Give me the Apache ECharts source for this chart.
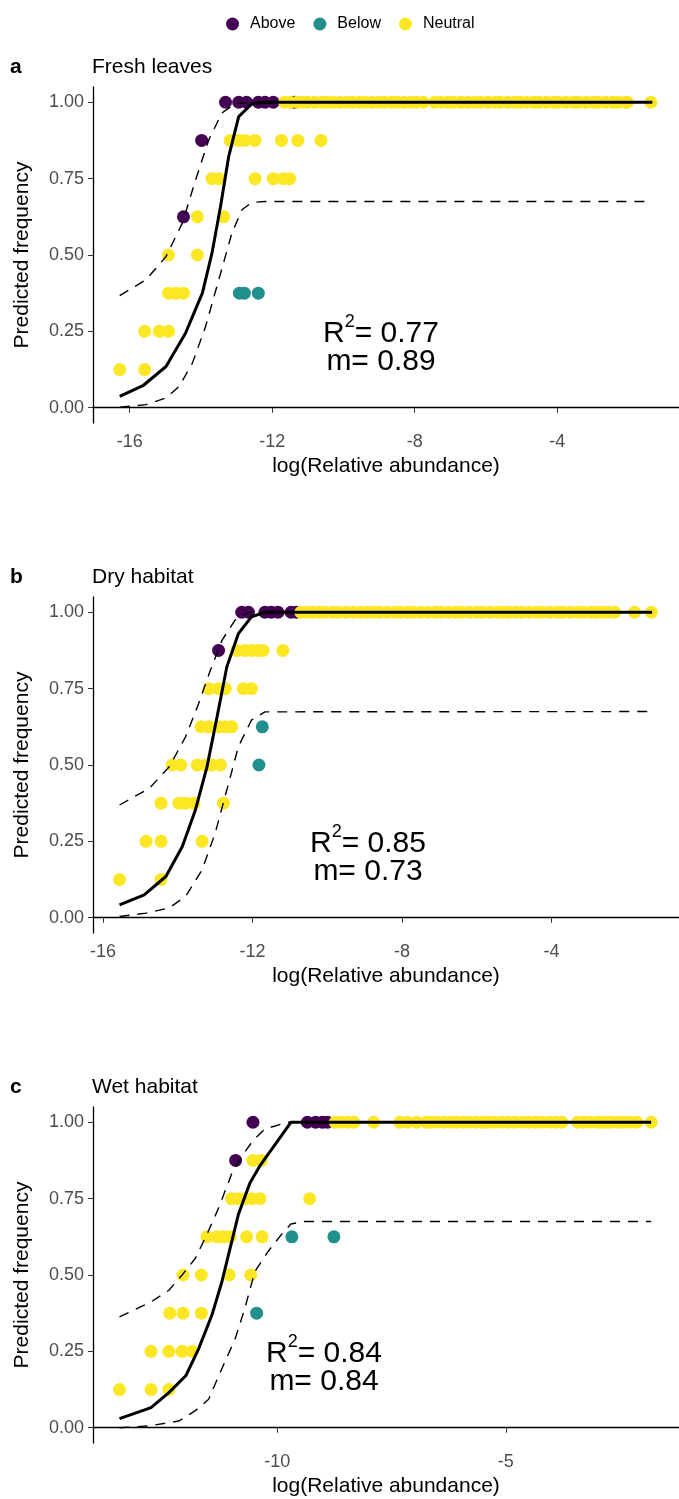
<!DOCTYPE html>
<html>
<head>
<meta charset="utf-8">
<script src="https://cdn.jsdelivr.net/npm/echarts@6/dist/echarts.min.js"></script>
<style>
  html, body { margin: 0; padding: 0; background: #fff; }
  #chart { width: 679px; height: 1499px; }
</style>
</head>
<body>
<div id="chart"></div>
<script>
// ---- data ----
var groups = ['Above', 'Below', 'Neutral'];
var groupColors = ['#440154', '#21908C', '#FDE725'];
var yTicks = [0, 0.25, 0.5, 0.75, 1];

// a: Fresh leaves
var aTicks = [-16, -12, -8, -4];
var aAbove = [[-13.31, 1], [-12.94, 1], [-12.72, 1], [-12.39, 1], [-12.2, 1], [-11.97, 1], [-11.37, 1],
  [-13.98, 0.875], [-14.49, 0.625]];
var aBelow = [[-12.92, 0.375], [-12.78, 0.375], [-12.39, 0.375]];
var aNeutralTop = [-11.65, -11.5, -11.3, -11.15, -11.0, -10.8, -10.6, -10.45, -10.3, -10.1, -9.9, -9.75,
  -9.55, -9.4, -9.2, -9.0, -8.85, -8.65, -8.5, -8.3, -8.1, -7.95, -7.76, -7.44, -7.25, -7.05, -6.9, -6.7,
  -6.5, -6.3, -6.15, -5.95, -5.75, -5.6, -5.4, -5.2, -5.05, -4.85, -4.65, -4.5, -4.3, -4.1, -3.95, -3.75,
  -3.55, -3.4, -3.2, -3.0, -2.85, -2.65, -2.45, -2.3, -2.1, -2.03, -1.37];
var aNeutral = [[-13.18, 0.875], [-12.94, 0.875], [-12.76, 0.875], [-12.48, 0.875], [-11.74, 0.875],
  [-11.28, 0.875], [-10.63, 0.875],
  [-13.69, 0.75], [-13.5, 0.75], [-12.48, 0.75], [-11.97, 0.75], [-11.69, 0.75], [-11.51, 0.75],
  [-14.1, 0.625], [-13.36, 0.625],
  [-14.91, 0.5], [-14.1, 0.5],
  [-14.91, 0.375], [-14.7, 0.375], [-14.49, 0.375],
  [-15.58, 0.25], [-15.17, 0.25], [-14.91, 0.25],
  [-16.28, 0.125], [-15.58, 0.125]];
var aFit = [[-16.28, 0.037], [-15.63, 0.072], [-14.98, 0.135], [-14.43, 0.245], [-13.96, 0.375],
  [-13.69, 0.506], [-13.45, 0.659], [-13.22, 0.823], [-12.94, 0.953], [-12.57, 0.995], [-12.2, 1], [-1.33, 1]];
var aUpper = [[-16.28, 0.367], [-15.54, 0.419], [-14.98, 0.495], [-14.52, 0.605], [-14.15, 0.746],
  [-13.78, 0.877], [-13.41, 0.965], [-13.04, 0.995], [-12.6, 1], [-1.33, 1]];
var aLower = [[-16.28, 0.002], [-15.54, 0.01], [-14.98, 0.032], [-14.61, 0.07], [-14.24, 0.146],
  [-13.87, 0.266], [-13.5, 0.419], [-13.13, 0.572], [-12.85, 0.648], [-12.57, 0.672], [-12.2, 0.675], [-1.33, 0.675]];

// b: Dry habitat
var bTicks = [-16, -12, -8, -4];
var bAbove = [[-12.29, 1], [-12.11, 1], [-11.67, 1], [-11.5, 1], [-11.32, 1], [-10.97, 1], [-10.83, 1],
  [-12.91, 0.875]];
var bBelow = [[-11.74, 0.625], [-11.83, 0.5]];
var bNeutralTop = [-10.71, -10.55, -10.38, -10.2, -10.05, -9.85, -9.7, -9.5, -9.3, -9.1, -8.93, -8.75,
  -8.6, -8.4, -8.2, -8.05, -7.85, -7.7, -7.5, -7.3, -7.1, -6.95, -6.75, -6.55, -6.4, -6.2, -6.0, -5.85,
  -5.65, -5.45, -5.3, -5.15, -4.96, -4.8, -4.6, -4.4, -4.25, -4.05, -3.85, -3.7, -3.5, -3.3, -3.15,
  -2.95, -2.8, -2.65, -2.5, -2.31, -1.78, -1.33];
var bNeutral = [[-12.42, 0.875], [-12.2, 0.875], [-12.03, 0.875], [-11.85, 0.875], [-11.72, 0.875], [-11.19, 0.875],
  [-13.17, 0.75], [-12.91, 0.75], [-12.73, 0.75], [-12.25, 0.75], [-12.03, 0.75],
  [-13.38, 0.625], [-13.17, 0.625], [-12.91, 0.625], [-12.73, 0.625], [-12.56, 0.625],
  [-14.15, 0.5], [-13.92, 0.5], [-13.48, 0.5], [-13.26, 0.5], [-13.09, 0.5], [-12.86, 0.5],
  [-14.45, 0.375], [-13.97, 0.375], [-13.79, 0.375], [-13.57, 0.375], [-12.78, 0.375],
  [-14.85, 0.25], [-14.45, 0.25], [-13.35, 0.25],
  [-15.56, 0.125], [-14.45, 0.125]];
var bFit = [[-15.56, 0.042], [-14.9, 0.075], [-14.32, 0.135], [-13.88, 0.233], [-13.53, 0.353],
  [-13.22, 0.494], [-12.95, 0.658], [-12.69, 0.821], [-12.38, 0.93], [-12.03, 0.985], [-11.67, 1], [-1.31, 1]];
var bUpper = [[-15.56, 0.369], [-14.76, 0.424], [-14.23, 0.494], [-13.79, 0.593], [-13.44, 0.702],
  [-13.13, 0.81], [-12.82, 0.908], [-12.47, 0.974], [-12.11, 1], [-1.31, 1]];
var bLower = [[-15.56, 0.004], [-14.85, 0.015], [-14.23, 0.032], [-13.79, 0.07], [-13.35, 0.157],
  [-13.0, 0.277], [-12.69, 0.418], [-12.38, 0.56], [-12.03, 0.647], [-11.67, 0.674], [-1.31, 0.675]];

// c: Wet habitat
var cTicks = [-10, -5];
var cAbove = [[-10.53, 1], [-9.34, 1], [-9.16, 1], [-9.01, 1], [-8.9, 1], [-10.91, 0.875]];
var cBelow = [[-9.68, 0.625], [-8.76, 0.625], [-10.45, 0.375]];
var cNeutralTop = [-8.73, -8.6, -8.45, -8.32, -7.89, -7.32, -7.15, -6.95, -6.74, -6.63, -6.5, -6.35,
  -6.2, -6.08, -5.94, -5.8, -5.65, -5.5, -5.4, -5.25, -5.1, -4.95, -4.8, -4.64, -4.5, -4.35, -4.2,
  -4.05, -3.9, -3.77, -3.43, -3.3, -3.15, -3.0, -2.9, -2.78, -2.69, -2.55, -2.42, -2.28, -2.13, -1.82];
var cNeutral = [[-10.53, 0.875], [-10.35, 0.875],
  [-11.0, 0.75], [-10.85, 0.75], [-10.71, 0.75], [-10.56, 0.75], [-10.38, 0.75], [-9.29, 0.75],
  [-11.54, 0.625], [-11.32, 0.625], [-11.18, 0.625], [-11.03, 0.625], [-10.67, 0.625], [-10.33, 0.625],
  [-12.06, 0.5], [-11.66, 0.5], [-11.05, 0.5], [-10.58, 0.5],
  [-12.35, 0.375], [-12.06, 0.375], [-11.66, 0.375],
  [-12.76, 0.25], [-12.37, 0.25], [-12.08, 0.25], [-11.86, 0.25],
  [-13.45, 0.125], [-12.76, 0.125], [-12.37, 0.125]];
var cFit = [[-13.45, 0.03], [-12.76, 0.066], [-12.37, 0.115], [-12.0, 0.17], [-11.72, 0.258], [-11.43, 0.368],
  [-11.21, 0.478], [-11.03, 0.588], [-10.85, 0.698], [-10.6, 0.8], [-10.38, 0.857], [-9.7, 1], [-1.82, 1]];
var cUpper = [[-13.45, 0.363], [-12.76, 0.412], [-12.37, 0.45], [-12.08, 0.5], [-11.79, 0.555],
  [-11.54, 0.632], [-11.28, 0.72], [-11.0, 0.83], [-10.74, 0.896], [-10.53, 0.94], [-10.27, 0.978],
  [-9.77, 1], [-1.82, 1]];
var cLower = [[-13.45, 0.0], [-12.8, 0.006], [-12.15, 0.022], [-11.79, 0.056], [-11.5, 0.093], [-11.28, 0.17],
  [-10.92, 0.291], [-10.71, 0.39], [-10.49, 0.511], [-10.2, 0.577], [-9.91, 0.632], [-9.7, 0.667],
  [-9.4, 0.675], [-1.82, 0.675]];

var panels = [
  { tag: 'a', name: 'Fresh leaves', top: 87, xMin: -17.03, xMax: -0.58, ticks: aTicks,
    above: aAbove, below: aBelow, neutral: aNeutral, neutralTop: aNeutralTop,
    fit: aFit, upper: aUpper, lower: aLower, r2: '0.77', m: '0.89', tx: 381 },
  { tag: 'b', name: 'Dry habitat', top: 597, xMin: -16.27, xMax: -0.59, ticks: bTicks,
    above: bAbove, below: bBelow, neutral: bNeutral, neutralTop: bNeutralTop,
    fit: bFit, upper: bUpper, lower: bLower, r2: '0.85', m: '0.73', tx: 368 },
  { tag: 'c', name: 'Wet habitat', top: 1107, xMin: -14.03, xMax: -1.21, ticks: cTicks,
    above: cAbove, below: cBelow, neutral: cNeutral, neutralTop: cNeutralTop,
    fit: cFit, upper: cUpper, lower: cLower, r2: '0.84', m: '0.84', tx: 324 }
];

var FONT = '"Liberation Sans", Arial, Helvetica, sans-serif';
var grids = [], xAxes = [], yAxes = [], series = [], graphics = [];

panels.forEach(function (p, i) {
  grids.push({ left: 93, width: 592, top: p.top, height: 336 });
  xAxes.push({
    type: 'value', gridIndex: i, min: p.xMin, max: p.xMax,
    name: 'log(Relative abundance)', nameLocation: 'middle', nameGap: 33,
    nameTextStyle: { fontFamily: FONT, fontSize: 21, color: '#000' },
    axisLine: { lineStyle: { color: '#000', width: 1.3 } },
    axisTick: { length: 5, customValues: p.ticks, lineStyle: { color: '#333' } },
    axisLabel: { customValues: p.ticks, fontFamily: FONT, fontSize: 18, color: '#4d4d4d', margin: 10 },
    splitLine: { show: false }
  });
  yAxes.push({
    type: 'value', gridIndex: i, min: -0.05, max: 1.05,
    name: 'Predicted frequency', nameLocation: 'middle', nameGap: 60, nameRotate: 90,
    nameTextStyle: { fontFamily: FONT, fontSize: 21, color: '#000' },
    axisLine: { show: true, lineStyle: { color: '#000', width: 1.3 } },
    axisTick: { show: true, length: 5, customValues: yTicks, lineStyle: { color: '#333' } },
    axisLabel: { customValues: yTicks, fontFamily: FONT, fontSize: 18, color: '#4d4d4d', margin: 9,
      formatter: function (v) { return v.toFixed(2); } },
    splitLine: { show: false }
  });

  var neutralAll = p.neutralTop.map(function (x) { return [x, 1]; }).concat(p.neutral);
  var pts = [p.above, p.below, neutralAll];
  pts.forEach(function (d, k) {
    series.push({
      name: groups[k], type: 'scatter', xAxisIndex: i, yAxisIndex: i, data: d,
      symbolSize: 13, itemStyle: { color: groupColors[k], opacity: 1 }, z: 2 + k * 0.1
    });
  });
  [[p.upper, 'dashed'], [p.lower, 'dashed'], [p.fit, 'solid']].forEach(function (l) {
    var solid = l[1] === 'solid';
    series.push({
      type: 'line', xAxisIndex: i, yAxisIndex: i, data: l[0], showSymbol: false, symbol: 'none',
      lineStyle: { color: '#000', width: solid ? 3 : 1.4, type: solid ? 'solid' : [10, 8] }, z: 5
    });
  });

  graphics.push({
    type: 'text', x: 10, y: p.top - 20,
    style: { text: p.tag, fontFamily: FONT, fontSize: 21, fontWeight: 'bold', fill: '#000',
      textVerticalAlign: 'middle' }
  });
  graphics.push({
    type: 'text', x: 92, y: p.top - 20,
    style: { text: p.name, fontFamily: FONT, fontSize: 21, fill: '#000', textVerticalAlign: 'middle' }
  });
  // R^2 / m annotation, superscript lifted by a taller first line
  graphics.push({
    type: 'text', x: p.tx, y: p.top + 257,
    style: {
      text: '{r|R}{s|2}{r|= ' + p.r2 + '}\n{r2|m= ' + p.m + '}',
      textAlign: 'center', textVerticalAlign: 'middle',
      rich: {
        r: { fontFamily: FONT, fontSize: 30, lineHeight: 26, color: '#000', verticalAlign: 'bottom' },
        s: { fontFamily: FONT, fontSize: 18, lineHeight: 36, color: '#000', verticalAlign: 'top',
          padding: [0, 0, 17, 0] },
        r2: { fontFamily: FONT, fontSize: 30, lineHeight: 26, color: '#000' }
      }
    }
  });
});

var chart = echarts.init(document.getElementById('chart'));
chart.setOption({
  animation: false,
  backgroundColor: '#fff',
  legend: {
    data: groups, top: 11, left: 221, icon: 'circle', itemWidth: 13, itemHeight: 13, itemGap: 18,
    textStyle: { fontFamily: FONT, fontSize: 16, color: '#000', padding: [0, 0, 0, 6] }
  },
  grid: grids,
  xAxis: xAxes,
  yAxis: yAxes,
  series: series,
  graphic: graphics
});
</script>
</body>
</html>
